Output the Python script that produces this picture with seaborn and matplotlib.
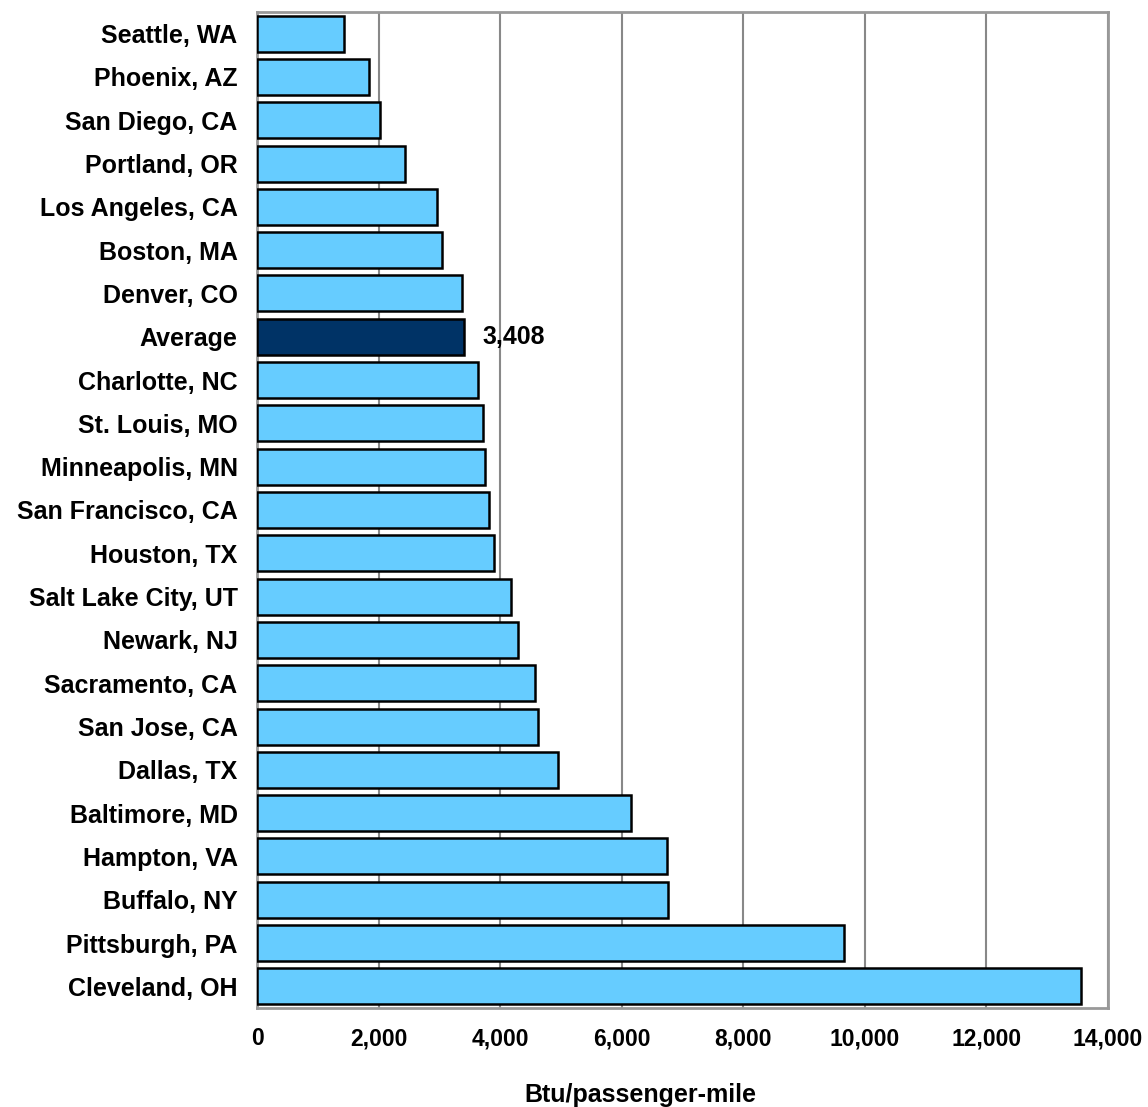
import numpy as np
import pandas as pd
import matplotlib
matplotlib.use("Agg")
import matplotlib.pyplot as plt
import seaborn as sns

# Data
cities = ["Seattle, WA", "Phoenix, AZ", "San Diego, CA", "Portland, OR", "Los Angeles, CA",
          "Boston, MA", "Denver, CO", "Average", "Charlotte, NC", "St. Louis, MO",
          "Minneapolis, MN", "San Francisco, CA", "Houston, TX", "Salt Lake City, UT",
          "Newark, NJ", "Sacramento, CA", "San Jose, CA", "Dallas, TX", "Baltimore, MD",
          "Hampton, VA", "Buffalo, NY", "Pittsburgh, PA", "Cleveland, OH"]
btu = [1430, 1840, 2025, 2435, 2960, 3045, 3370, 3408, 3635, 3715,
       3750, 3815, 3900, 4180, 4295, 4575, 4620, 4950, 6150,
       6745, 6760, 9655, 13555]
xticks = [0, 2000, 4000, 6000, 8000, 10000, 12000, 14000]

LIGHT = "#66CCFF"
DARK = "#003366"

df = pd.DataFrame({"City": cities, "Btu": btu})
colors = [DARK if c == "Average" else LIGHT for c in cities]

sns.set_style("white")
plt.rcParams["font.family"] = ["Liberation Sans", "DejaVu Sans"]
plt.rcParams["font.weight"] = "bold"
plt.rcParams["text.color"] = "black"
plt.rcParams["xtick.color"] = "black"
plt.rcParams["ytick.color"] = "black"
plt.rcParams["axes.labelcolor"] = "black"

fig = plt.figure(figsize=(11.48, 11.07), dpi=100)
ax = fig.add_axes([0.2239, 0.0894, 0.7413, 0.8998])

sns.barplot(data=df, x="Btu", y="City", hue="City", palette=colors, legend=False,
            orient="h", width=0.83, saturation=1, edgecolor="black", linewidth=1.8,
            ax=ax, zorder=3)

ax.set_xlim(0, 14000)
ax.set_xticks(xticks)
ax.set_xticklabels([f"{v:,}" for v in xticks], fontsize=16.5, fontweight="bold")
ax.set_yticks(np.arange(len(cities)) - 0.5, minor=True)
ax.tick_params(axis="y", which="major", length=0, labelsize=18, pad=14)
ax.tick_params(axis="y", which="minor", length=8, color="#888888", width=1.5)
ax.tick_params(axis="x", which="major", length=8, color="#888888", width=1.5,
               labelsize=16.5, pad=6, labelcolor="black")
for lbl in ax.get_yticklabels():
    lbl.set_fontweight("bold")

ax.xaxis.grid(True, color="#888888", linewidth=1.5, zorder=0)
ax.set_axisbelow(True)
for s in ax.spines.values():
    s.set_color("#999999")
    s.set_linewidth(2)

ax.set_ylabel("")
ax.set_xlabel("Btu/passenger-mile", fontsize=18, fontweight="bold")
ax.xaxis.set_label_coords(0.45, -0.075)

avg_idx = cities.index("Average")
ax.text(btu[avg_idx] + 300, avg_idx, f"{btu[avg_idx]:,}", va="center", ha="left",
        fontsize=18, fontweight="bold")

fig.savefig("out.png", dpi=100)
